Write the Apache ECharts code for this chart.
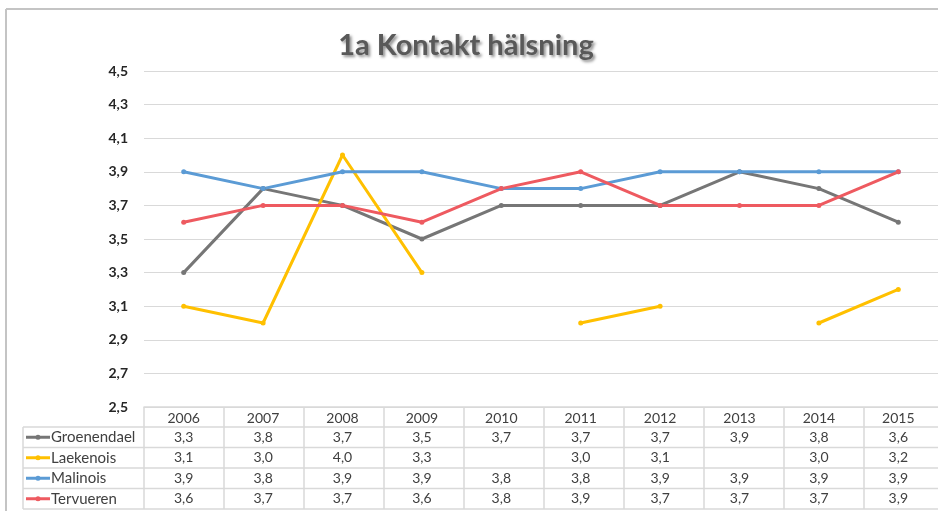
<!DOCTYPE html>
<html>
<head>
<meta charset="utf-8">
<script src="https://cdn.jsdelivr.net/npm/echarts@6/dist/echarts.min.js"></script>
<style>
  html, body { margin: 0; padding: 0; background: #fff; }
  #main { width: 938px; height: 511px; }
</style>
</head>
<body>
<div id="main"></div>
<script>
// data
var years = ['2006', '2007', '2008', '2009', '2010', '2011', '2012', '2013', '2014', '2015']
var names = ['Groenendael', 'Laekenois', 'Malinois', 'Tervueren']
var groenendael = [3.3, 3.8, 3.7, 3.5, 3.7, 3.7, 3.7, 3.9, 3.8, 3.6]
var laekenois = [3.1, 3.0, 4.0, 3.3, null, 3.0, 3.1, null, 3.0, 3.2]
var malinois = [3.9, 3.8, 3.9, 3.9, 3.8, 3.8, 3.9, 3.9, 3.9, 3.9]
var tervueren = [3.6, 3.7, 3.7, 3.6, 3.8, 3.9, 3.7, 3.7, 3.7, 3.9]
var colors = ['#767676', '#FFC000', '#5B9BD5', '#EE5A60']

var allData = [groenendael, laekenois, malinois, tervueren]

var gridLeft = 144, gridTop = 71, gridW = 800, gridH = 336
var rowH = 20.5
var lineCol = '#d9d9d9'
var txtCol = '#404040'

function fmt(v) {
  return v == null ? '' : v.toFixed(1).replace('.', ',')
}

var chart = echarts.init(document.getElementById('main'));

var option = {
  animation: false,
  title: {
    text: '1a Kontakt hälsning',
    left: 461,
    textAlign: 'center',
    top: 26,
    textStyle: {
      fontFamily: 'Lato',
      fontWeight: 'bold',
      fontSize: 29,
      color: '#595959',
      textShadowColor: 'rgba(0,0,0,0.45)',
      textShadowBlur: 3,
      textShadowOffsetX: 2,
      textShadowOffsetY: 2
    }
  },
  grid: {
    left: gridLeft,
    top: gridTop,
    width: gridW,
    height: gridH
  },
  xAxis: {
    type: 'category',
    data: years,
    boundaryGap: true,
    axisLine: { lineStyle: { color: lineCol, width: 1.5 } },
    axisTick: { show: false },
    axisLabel: {
      margin: 4,
      color: txtCol,
      fontFamily: 'Lato',
      fontSize: 14
    }
  },
  yAxis: {
    type: 'value',
    min: 2.5,
    max: 4.5,
    interval: 0.2,
    axisLine: { show: false },
    axisTick: { show: false },
    splitLine: { lineStyle: { color: lineCol, width: 1 } },
    axisLabel: {
      margin: 16,
      color: '#262626',
      fontFamily: 'Lato',
      fontWeight: 'bold',
      fontSize: 14,
      formatter: function (v) { return fmt(v) }
    }
  },
  series: names.map(function (n, i) {
    return {
      name: n,
      type: 'line',
      data: allData[i],
      symbol: 'circle',
      symbolSize: 5,
      connectNulls: false,
      lineStyle: { color: colors[i], width: 3 },
      itemStyle: { color: colors[i] }
    }
  })
};

chart.setOption(option);

// data table under the chart
var tableTop = gridTop + gridH
var headBottom = tableTop + 20
var tableBottom = headBottom + rowH * names.length
var tableLeft = 23
var els = []

// outer chart border
els.push({ type: 'line', shape: { x1: 6, y1: 9, x2: 938, y2: 9 }, style: { stroke: '#c4c4c4', lineWidth: 2 } })
els.push({ type: 'line', shape: { x1: 6, y1: 9, x2: 6, y2: 511 }, style: { stroke: '#c4c4c4', lineWidth: 2 } })

// horizontal lines
for (var r = 0; r <= names.length; r++) {
  var y = headBottom + rowH * r
  els.push({ type: 'line', shape: { x1: tableLeft, y1: y, x2: 944, y2: y }, style: { stroke: lineCol, lineWidth: 1.5 } })
}
// vertical lines
els.push({ type: 'line', shape: { x1: tableLeft, y1: headBottom, x2: tableLeft, y2: tableBottom }, style: { stroke: lineCol, lineWidth: 1.5 } })
var colW = gridW / years.length
for (var c = 0; c <= years.length; c++) {
  var x = gridLeft + colW * c
  els.push({ type: 'line', shape: { x1: x, y1: tableTop, x2: x, y2: tableBottom }, style: { stroke: lineCol, lineWidth: 1.5 } })
}

// row labels with legend keys and values
names.forEach(function (n, i) {
  var cy = headBottom + rowH * i + rowH / 2
  els.push({ type: 'line', shape: { x1: 26, y1: cy, x2: 50, y2: cy }, style: { stroke: colors[i], lineWidth: 3 } })
  els.push({ type: 'circle', shape: { cx: 38, cy: cy, r: 2.5 }, style: { fill: colors[i] } })
  els.push({
    type: 'text', x: 51, y: cy,
    style: { text: n, fill: txtCol, font: '15px Lato', verticalAlign: 'middle' }
  })
  allData[i].forEach(function (v, j) {
    var px = chart.convertToPixel({ xAxisIndex: 0 }, years[j])
    els.push({
      type: 'text', x: px, y: cy,
      style: { text: fmt(v), fill: txtCol, font: '14px Lato', align: 'center', verticalAlign: 'middle' }
    })
  })
})

chart.setOption({ graphic: { elements: els } });
</script>
</body>
</html>
